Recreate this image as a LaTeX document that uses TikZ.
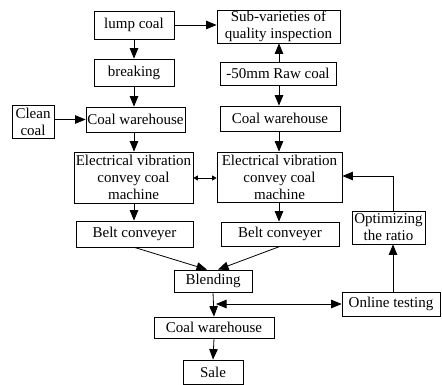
\documentclass[tikz,border=0pt]{standalone}
\usepackage{fontspec}
\setmainfont{Liberation Serif}
\usetikzlibrary{arrows.meta}
\begin{document}
\begin{tikzpicture}[x=1pt,y=-1pt,
  box/.style={draw,line width=0.8pt,inner sep=0pt,align=center,
    font=\fontsize{15}{17}\selectfont},
  arr/.style={line width=0.8pt,-{Triangle[length=10.5pt,width=8.5pt]}},
  darr/.style={line width=0.8pt,{Triangle[length=10.5pt,width=8.5pt]}-{Triangle[length=10.5pt,width=8.5pt]}},
  sarr/.style={line width=0.8pt,{Triangle[length=4.5pt,width=5pt]}-{Triangle[length=4.5pt,width=5pt]}}]
\useasboundingbox (0,0) rectangle (442,385);
\node[box,minimum width=80pt,minimum height=28pt] (lump) at (134,25) {lump coal};
\node[box,minimum width=80pt,minimum height=27pt] (brk) at (134,72.5) {breaking};
\node[box,minimum width=99pt,minimum height=25pt] (cwL) at (135.5,119.5) {Coal warehouse};
\node[box,minimum width=42pt,minimum height=33pt] (clean) at (33,121.5) {Clean\\coal};
\node[box,minimum width=119pt,minimum height=51pt] (evL) at (133.5,177.5) {Electrical vibration\\convey coal\\machine};
\node[box,minimum width=117pt,minimum height=26pt] (beltL) at (134.5,234) {Belt conveyer};
\node[box,minimum width=123pt,minimum height=33pt] (sub) at (278.5,26.5) {Sub-varieties of\\quality inspection};
\node[box,minimum width=116pt,minimum height=23pt] (raw) at (278,73.5) {-50mm Raw coal};
\node[box,minimum width=120pt,minimum height=25pt] (cwR) at (280,118.5) {Coal warehouse};
\node[box,minimum width=125pt,minimum height=50pt] (evR) at (279.5,177) {Electrical vibration\\convey coal\\machine};
\node[box,minimum width=118pt,minimum height=24pt] (beltR) at (280,234) {Belt conveyer};
\node[box,minimum width=73pt,minimum height=33pt] (opt) at (388.5,227.5) {Optimizing\\the ratio};
\node[box,minimum width=98pt,minimum height=24pt] (online) at (391,304) {Online testing};
\node[box,minimum width=78pt,minimum height=22pt] (blend) at (213,281) {Blending};
\node[box,minimum width=120pt,minimum height=21pt] (cwB) at (214,327.5) {Coal warehouse};
\node[box,minimum width=60pt,minimum height=24pt] (sale) at (213,372) {Sale};
\coordinate (lx) at (134,0);
\coordinate (rx) at (279,0);
\coordinate (fx) at (393,0);
\coordinate (fy) at (0,176);
\coordinate (j) at (216,304);
\draw[arr] (lump.south -| lx) -- (brk.north -| lx);
\draw[arr] (brk.south -| lx) -- (cwL.north -| lx);
\draw[arr] (cwL.south -| lx) -- (evL.north -| lx);
\draw[arr] (evL.south -| lx) -- (beltL.north -| lx);
\draw[arr] (clean.east |- cwL.west) -- (cwL.west);
\draw[arr] (lump.east) -- (sub.west |- lump.east);
\draw[arr] (raw.north -| rx) -- (sub.south -| rx);
\draw[arr] (raw.south -| rx) -- (cwR.north -| rx);
\draw[arr] (cwR.south -| rx) -- (evR.north -| rx);
\draw[arr] (evR.south -| rx) -- (beltR.north -| rx);
\draw[sarr] (evL.east |- 0,178) -- (evR.west |- 0,178);
\draw[arr] (beltL.south) -- ([xshift=-6pt]blend.north);
\draw[arr] (beltR.south) -- ([xshift=5pt]blend.north);
\draw[arr] (blend.south) -- (cwB.north);
\draw[arr] (cwB.south) -- (sale.north);
\draw[darr] (j) -- (online.west);
\draw[arr] (online.north -| fx) -- (opt.south -| fx);
\draw[arr] (opt.north -| fx) -- (fx |- fy) -- (evR.east |- fy);
\end{tikzpicture}
\end{document}
